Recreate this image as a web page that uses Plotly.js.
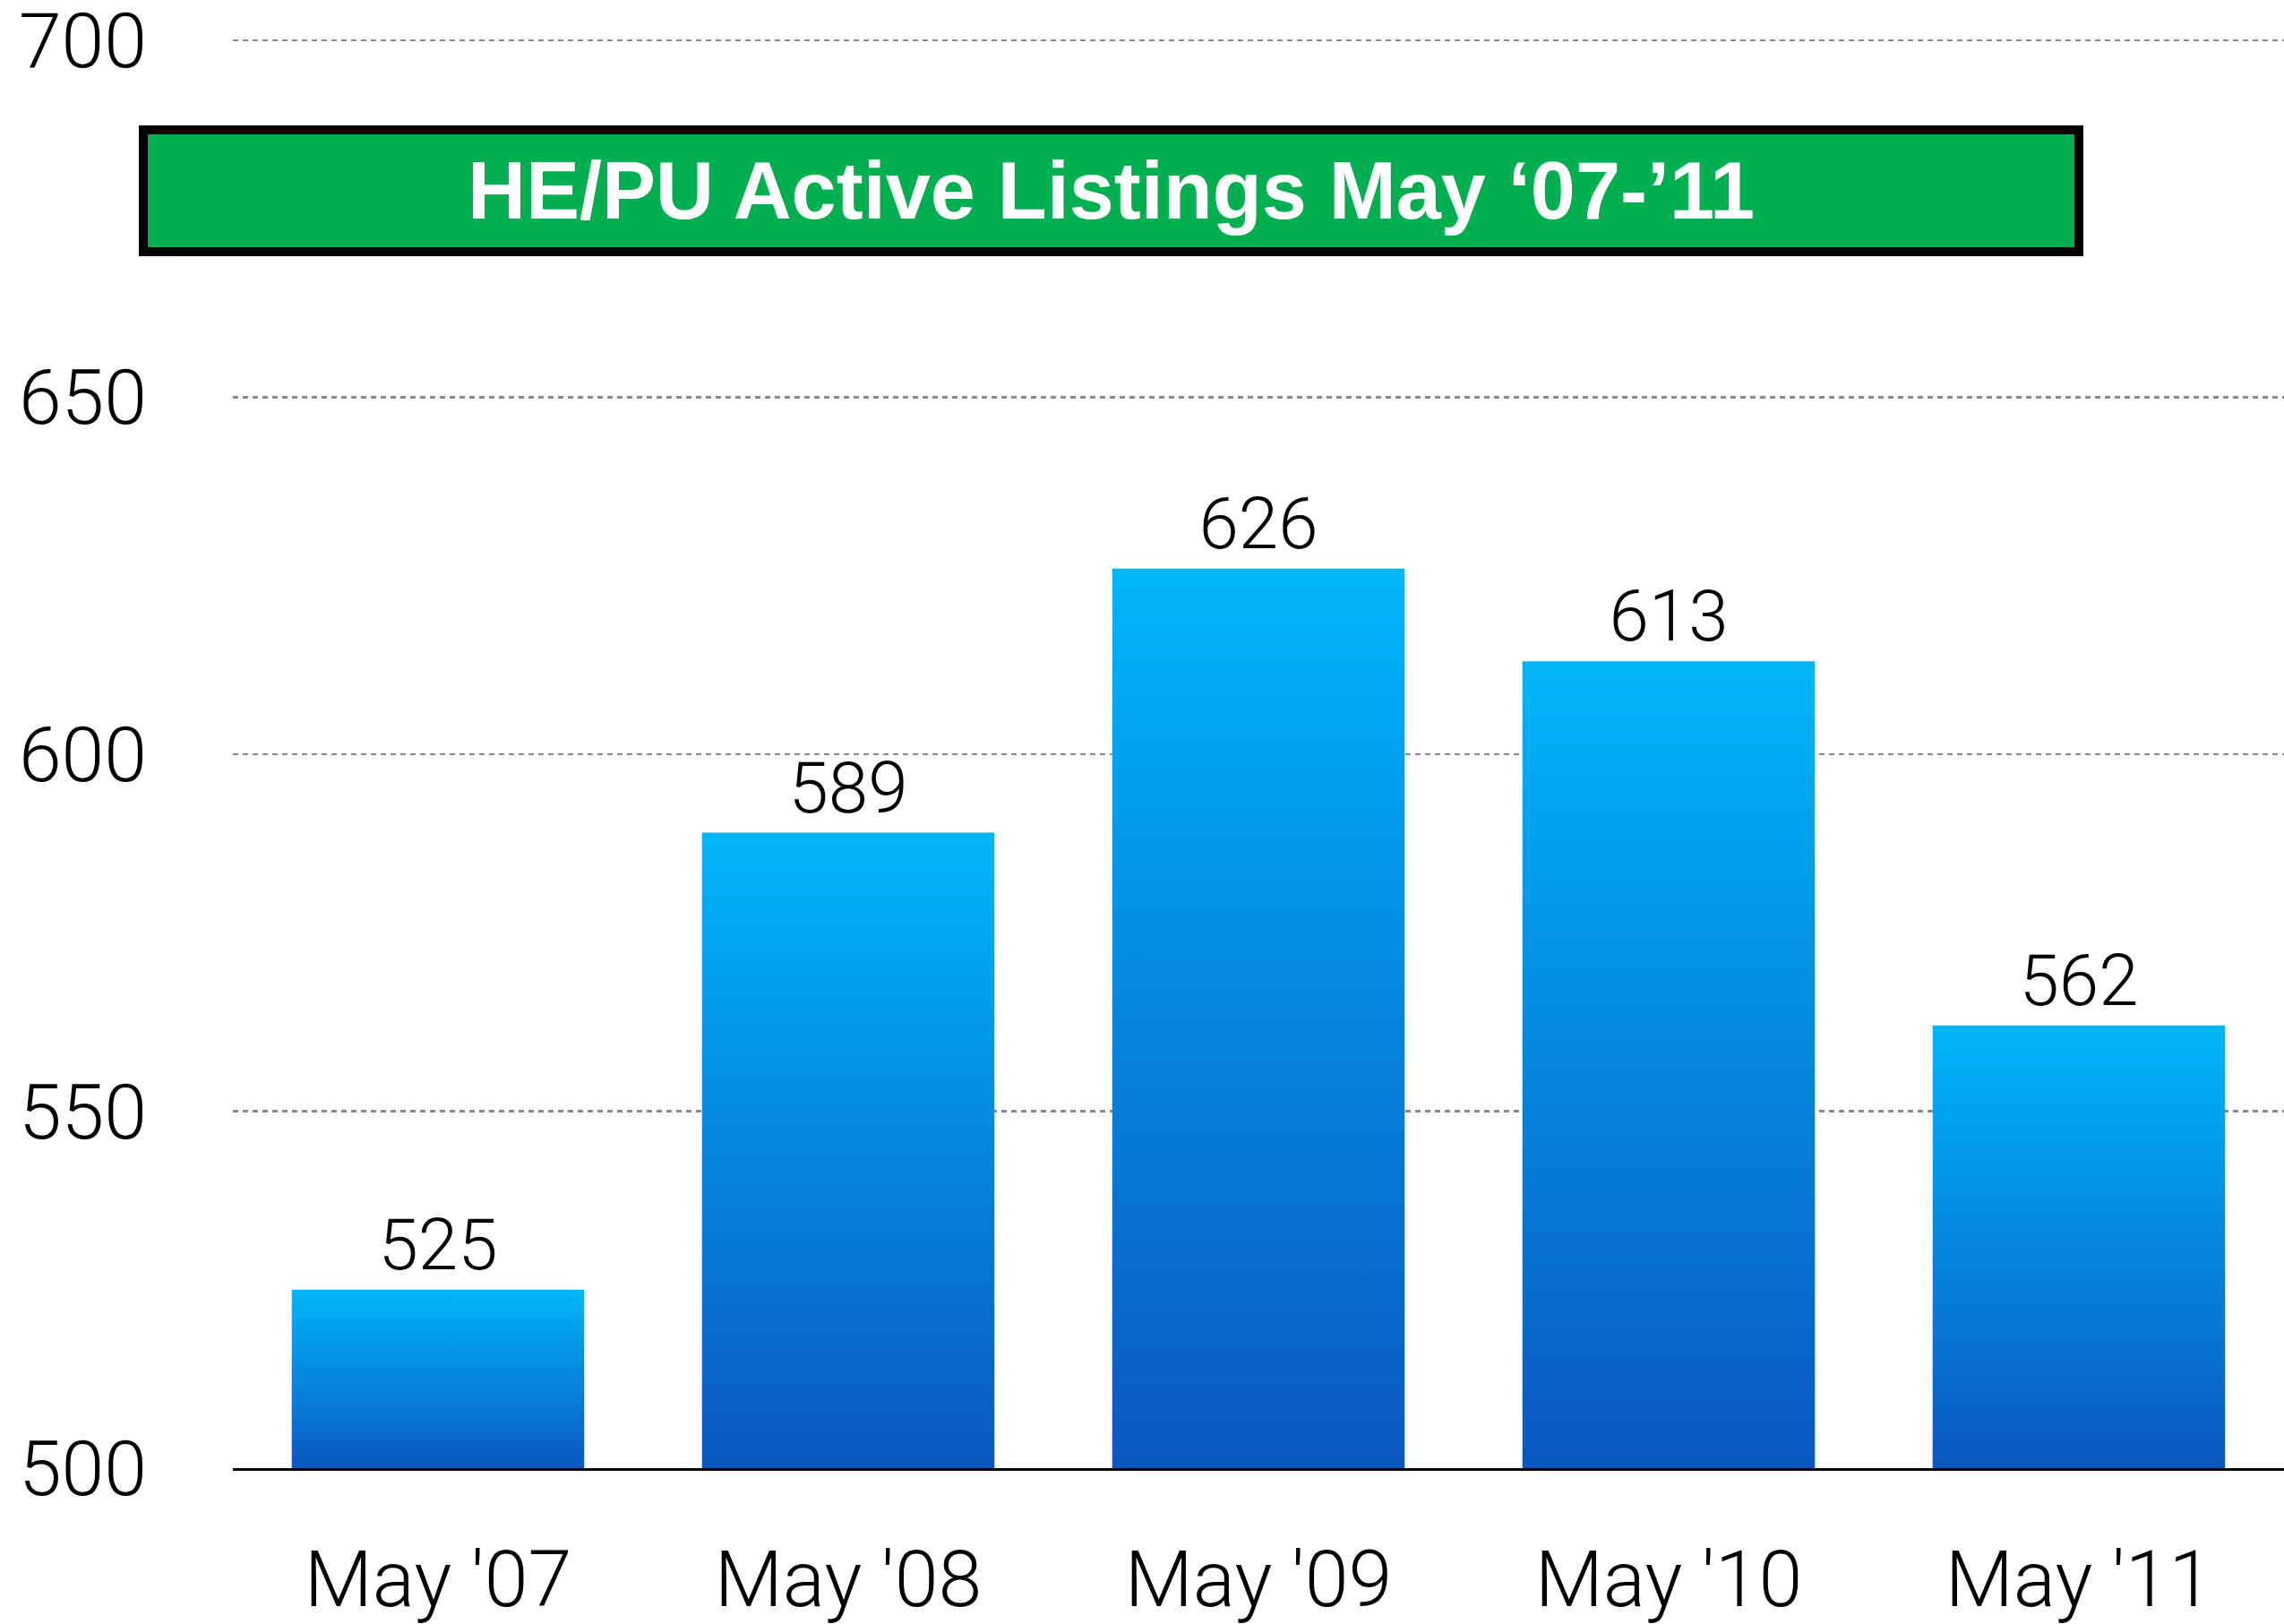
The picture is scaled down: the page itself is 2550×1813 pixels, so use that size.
<!DOCTYPE html>
<html>
<head>
<meta charset="utf-8">
<script src="https://cdn.plot.ly/plotly-3.0.1.min.js"></script>
<style>
html,body{margin:0;padding:0;background:#fff;}
#chart{width:2550px;height:1813px;}
</style>
</head>
<body>
<div id="chart"></div>
<script>
const categories = ["May '07", "May '08", "May '09", "May '10", "May '11"];
const listings = [525, 589, 626, 613, 562];
const yTicks = [500, 550, 600, 650, 700];
const chartTitle = "HE/PU Active Listings May \u201807-\u201911";

const baseline = 500;
const baseFont = "Roboto, 'Liberation Sans', Arial, sans-serif";

const trace = {
  type: 'bar',
  x: categories,
  y: listings.map(function (v) { return v - baseline; }),
  base: baseline,
  marker: {color: '#0590e0', line: {width: 0}},
  text: listings.map(String),
  textposition: 'outside',
  textfont: {family: baseFont, size: 80, color: '#000', weight: 300},
  cliponaxis: false,
  hoverinfo: 'x+text'
};

const layout = {
  width: 2550,
  height: 1813,
  margin: {l: 260, r: 0, t: 40, b: 174, pad: 0},
  paper_bgcolor: '#ffffff',
  plot_bgcolor: '#ffffff',
  showlegend: false,
  bargap: 0.287,
  xaxis: {
    type: 'category',
    showgrid: false,
    showline: true,
    linecolor: '#000',
    linewidth: 3,
    ticks: '',
    ticklabelstandoff: 45,
    ticklabeloverflow: 'allow',
    tickfont: {family: baseFont, size: 88, color: '#000', weight: 300},
    zeroline: false
  },
  yaxis: {
    range: [baseline, 700.6],
    tickvals: yTicks,
    ticktext: yTicks.map(String),
    showgrid: true,
    gridcolor: '#8a8a8a',
    gridwidth: 2.5,
    griddash: '6px,5px',
    showline: false,
    zeroline: false,
    ticks: '',
    ticklabelstandoff: 95,
    ticklabeloverflow: 'allow',
    tickfont: {family: baseFont, size: 86, color: '#000', weight: 300}
  },
  annotations: [{
    xref: 'paper', yref: 'paper',
    x: (1240 - 260) / 2290, y: (1813 - 174 - 213) / 1599,
    xanchor: 'center', yanchor: 'middle',
    text: '<b>' + chartTitle + '</b>',
    showarrow: false,
    font: {family: "'Liberation Sans', Arial, sans-serif", size: 90, color: '#ffffff'},
    bgcolor: '#00af50',
    bordercolor: '#000000',
    borderwidth: 10,
    borderpad: 0,
    width: 2151,
    height: 126,
    align: 'center',
    valign: 'middle'
  }]
};

Plotly.newPlot('chart', [trace], layout, {displayModeBar: false, staticPlot: true}).then(function (gd) {
  const svg = gd.querySelector('svg.main-svg');
  const ns = 'http://www.w3.org/2000/svg';
  let defs = svg.querySelector('defs');
  if (!defs) { defs = document.createElementNS(ns, 'defs'); svg.insertBefore(defs, svg.firstChild); }
  const grad = document.createElementNS(ns, 'linearGradient');
  grad.setAttribute('id', 'barGrad');
  grad.setAttribute('x1', '0'); grad.setAttribute('y1', '0');
  grad.setAttribute('x2', '0'); grad.setAttribute('y2', '1');
  [['0', '#00b6f9'], ['1', '#0a57c2']].forEach(function (s) {
    const st = document.createElementNS(ns, 'stop');
    st.setAttribute('offset', s[0]);
    st.setAttribute('stop-color', s[1]);
    grad.appendChild(st);
  });
  defs.appendChild(grad);
  gd.querySelectorAll('.bars .point path').forEach(function (p) {
    p.style.fill = 'url(#barGrad)';
  });
});
</script>
</body>
</html>
